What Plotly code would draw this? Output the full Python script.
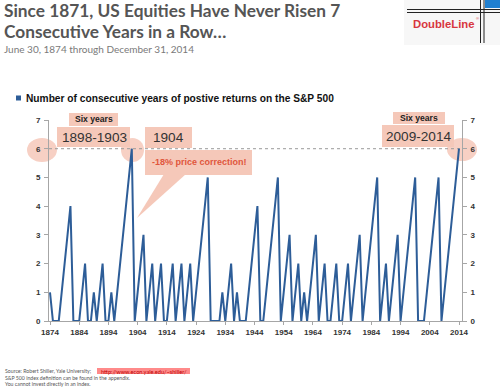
import plotly.graph_objects as go

# ---------------- data ----------------
years = list(range(1874, 2015))
consecutive_up_years = [
    1, 0, 0, 0, 1, 2, 3, 4, 0, 0,      # 1874-1883
    0, 1, 2, 0, 0, 1, 0, 1, 2, 0,      # 1884-1893
    0, 1, 0, 1, 2, 3, 4, 5, 6, 0,      # 1894-1903
    1, 2, 3, 0, 1, 2, 0, 1, 2, 0,      # 1904-1913
    0, 1, 2, 0, 1, 2, 0, 1, 2, 0,      # 1914-1923
    1, 2, 3, 4, 5, 0, 0, 0, 0, 1,      # 1924-1933
    0, 1, 2, 0, 1, 0, 0, 0, 1, 2,      # 1934-1943
    3, 4, 0, 0, 1, 2, 3, 4, 5, 0,      # 1944-1953
    1, 2, 3, 0, 1, 2, 0, 1, 0, 1,      # 1954-1963
    2, 3, 0, 1, 2, 0, 0, 1, 2, 0,      # 1964-1973
    0, 1, 2, 0, 1, 2, 3, 0, 1, 2,      # 1974-1983
    3, 4, 5, 0, 1, 2, 0, 1, 2, 3,      # 1984-1993
    0, 1, 2, 3, 4, 5, 0, 0, 0, 1,      # 1994-2003
    2, 3, 4, 5, 0, 1, 2, 3, 4, 5,      # 2004-2013
    6,                                 # 2014
]
x_tick_years = list(range(1874, 2015, 10))
y_ticks = list(range(0, 8))
series_name = "Number of consecutive years of postive returns on the S&P 500"

# ---------------- layout helpers ----------------
W, H = 500, 390
ML, MR, MT, MB = 49, 38, 120, 69
PW = W - ML - MR
PH = H - MT - MB


def px(x):
    return (x - ML) / PW


def py(y):
    return (H - MB - y) / PH


PINK = "#f5c8b9"
PINK_C = "#f7d0c4"
LINE_BLUE = "#2d5d98"
AX = "#a6a6a6"
TXT = "#333333"

fig = go.Figure()
fig.add_trace(go.Scatter(
    x=years, y=consecutive_up_years, mode="lines", name=series_name,
    line=dict(color=LINE_BLUE, width=2), showlegend=False, cliponaxis=False,
))
# invisible trace for right axis
fig.add_trace(go.Scatter(x=[years[0]], y=[0], yaxis="y2", mode="markers",
                         marker=dict(opacity=0), showlegend=False, hoverinfo="skip"))

shapes = []


def rect(x0, y0, x1, y1, color=PINK):
    shapes.append(dict(type="rect", xref="paper", yref="paper",
                       x0=px(x0), x1=px(x1), y0=py(y1), y1=py(y0),
                       fillcolor=color, line=dict(width=0), layer="below"))


def ellipse(x0, y0, x1, y1, color=PINK_C):
    shapes.append(dict(type="circle", xref="paper", yref="paper",
                       x0=px(x0), x1=px(x1), y0=py(y1), y1=py(y0),
                       fillcolor=color, line=dict(width=0), layer="below"))


# highlight circles
ellipse(27, 138, 57, 162)
ellipse(121, 138, 144, 162)
ellipse(447, 138, 477, 161)
# label boxes
rect(69, 113, 118, 126)
rect(57, 127, 130, 147)
rect(145, 127, 192, 148)
rect(145, 150, 252, 175)
rect(393, 112, 445, 124)
rect(382, 125, 454, 147)
# callout wedge
shapes.append(dict(type="path", xref="paper", yref="paper",
                   path=f"M {px(164)},{py(174)} L {px(186)},{py(174)} L {px(137)},{py(218)} Z",
                   fillcolor=PINK, line=dict(width=0), layer="below"))
# dotted reference line at 6
shapes.append(dict(type="line", xref="paper", yref="y", x0=0, x1=1, y0=6, y1=6,
                   line=dict(color="#9a9a9a", width=1, dash="dot"), layer="below"))
# legend square
shapes.append(dict(type="rect", xref="paper", yref="paper",
                   x0=px(16), x1=px(21), y0=py(100.5), y1=py(95.5),
                   fillcolor=LINE_BLUE, line=dict(width=0)))
# logo graphics
shapes.append(dict(type="rect", xref="paper", yref="paper",
                   x0=px(404), x1=px(500), y0=py(45), y1=py(0),
                   fillcolor="#f7f7f7", line=dict(width=0), layer="below"))
for yy in (9.5, 12.5):
    shapes.append(dict(type="line", xref="paper", yref="paper",
                       x0=px(407), x1=px(500), y0=py(yy), y1=py(yy),
                       line=dict(color="#222222", width=1)))
for xx in (480.5, 484):
    shapes.append(dict(type="line", xref="paper", yref="paper",
                       x0=px(xx), x1=px(xx), y0=py(0), y1=py(43),
                       line=dict(color="#222222", width=1)))
shapes.append(dict(type="rect", xref="paper", yref="paper",
                   x0=px(485), x1=px(500), y0=py(8), y1=py(0),
                   fillcolor="#1f7fd0", line=dict(width=0)))
# footer link highlight
shapes.append(dict(type="rect", xref="paper", yref="paper",
                   x0=px(97), x1=px(190), y0=py(374), y1=py(368),
                   fillcolor="#ff8a8a", line=dict(width=0), layer="below"))

annotations = []


def label(text, x, y, size, color=TXT, family="Liberation Sans, Arial", weight="normal",
          xanchor="left", yanchor="middle"):
    annotations.append(dict(text=text, x=px(x), y=py(y), xref="paper", yref="paper",
                            xanchor=xanchor, yanchor=yanchor, showarrow=False,
                            font=dict(size=size, color=color, family=family, weight=weight)))


TITLE_F = "Lato, Open Sans, sans-serif"
label("Since 1871, US Equities Have Never Risen 7", 2, 10, 17.3, "#555555", TITLE_F, "bold")
label("Consecutive Years in a Row…", 2, 31.5, 17.3, "#555555", TITLE_F, "bold")
label("June 30, 1874 through December 31, 2014", 2, 49, 10, "#7a7a7a", TITLE_F)
label("DoubleLine", 411, 24, 11.3, "#d8363e", "Liberation Sans, Arial", "bold")
label("®", 474, 18, 4, "#d8363e")
label(series_name, 24, 98, 10.2, "#111111", weight="bold")

label("Six years", 93.5, 119.5, 8.6, "#222222", weight="bold", xanchor="center")
label("1898-1903", 94, 137, 13.6, TXT, xanchor="center")
label("1904", 151, 137.5, 13.6, TXT)
label("-18% price correction!", 150, 162, 9, "#e0563c", weight="bold")
label("Six years", 419, 118, 8.6, "#222222", weight="bold", xanchor="center")
label("2009-2014", 418, 136, 13.6, TXT, xanchor="center")

FOOT = "Lato, sans-serif"
label("Source: Robert Shiller, Yale University; ", 3, 371, 5.2, "#555555", FOOT)
label("http://www.econ.yale.edu/~shiller/", 99, 371, 5.6, "#c00000", FOOT)
label("S&P 500 index definition can be found in the appendix.", 3, 377.5, 5.2, "#555555", FOOT)
label("You cannot invest directly in an index.", 3, 384, 5.2, "#555555", FOOT)

tick_font = dict(family="Liberation Sans, Arial", size=8, color=TXT, weight="bold")
x0_rng = 1874 - 1 / (409 / 140)
x1_rng = 2014 + 3 / (409 / 140)

fig.update_layout(
    width=W, height=H,
    margin=dict(l=ML, r=MR, t=MT, b=MB, pad=0),
    paper_bgcolor="white", plot_bgcolor="white",
    showlegend=False,
    xaxis=dict(range=[x0_rng, x1_rng], tickvals=x_tick_years,
               ticktext=[str(v) for v in x_tick_years],
               showgrid=False, zeroline=False, showline=True, linecolor=AX, linewidth=1,
               ticks="outside", ticklen=3, tickcolor=AX, tickfont=tick_font),
    yaxis=dict(range=[0, 7], tickvals=y_ticks, showgrid=False, zeroline=False,
               showline=True, linecolor=AX, linewidth=1, ticks="outside", ticklen=4,
               tickcolor=AX, tickfont=tick_font, ticklabelstandoff=2),
    yaxis2=dict(range=[0, 7], tickvals=y_ticks, overlaying="y", side="right",
                showgrid=False, zeroline=False, showline=True, linecolor=AX, linewidth=1,
                ticks="outside", ticklen=4, tickcolor=AX, tickfont=tick_font,
                ticklabelstandoff=2),
    shapes=shapes,
    annotations=annotations,
)

fig.write_html("out.html", config={"displayModeBar": False},
               post_script="document.body.style.margin='0';document.body.style.overflow='hidden';")
